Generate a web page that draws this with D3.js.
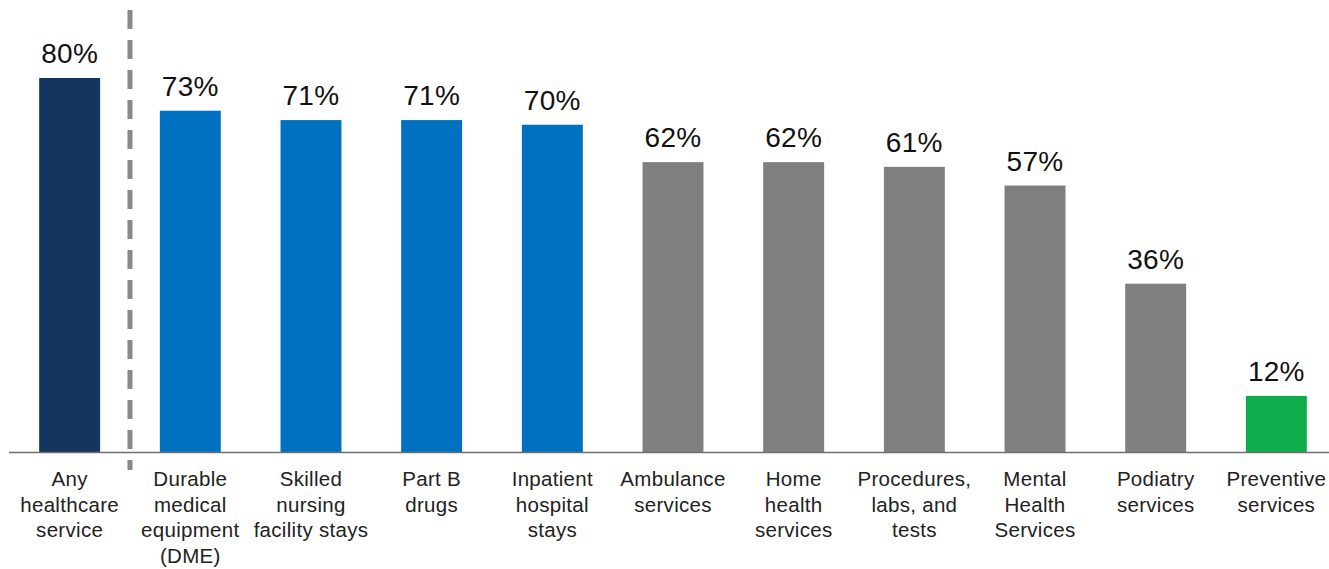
<!DOCTYPE html>
<html>
<head>
<meta charset="utf-8">
<script src="https://cdn.jsdelivr.net/npm/d3@7"></script>
<style>
  body { margin: 0; background: #fff; }
  svg { display: block; }
</style>
</head>
<body>
<svg id="chart"></svg>
<script>
// Share of respondents, per service
const categories = [
  ['Any', 'healthcare', 'service'],
  ['Durable', 'medical', 'equipment', '(DME)'],
  ['Skilled', 'nursing', 'facility stays'],
  ['Part B', 'drugs'],
  ['Inpatient', 'hospital', 'stays'],
  ['Ambulance', 'services'],
  ['Home', 'health', 'services'],
  ['Procedures,', 'labs, and', 'tests'],
  ['Mental', 'Health', 'Services'],
  ['Podiatry', 'services'],
  ['Preventive', 'services']
];
const values = [80, 73, 71, 71, 70, 62, 62, 61, 57, 36, 12];
const groups = ['any', 'blue', 'blue', 'blue', 'blue', 'gray', 'gray', 'gray', 'gray', 'gray', 'green'];

const colors = { any: '#14365C', blue: '#0070C0', gray: '#7F7F7F', green: '#0DAD4C' };

const width = 1329;
const height = 569;
const baseY = 452;

const svg = d3.select('#chart')
  .attr('width', width)
  .attr('height', height);

const keys = categories.map((c, i) => i);

const x = d3.scaleBand()
  .domain(keys)
  .range([9, 1337])
  .paddingInner(0.495)
  .paddingOuter(0.25);

const y = d3.scaleLinear()
  .domain([0, 80])
  .range([baseY, 78]);

// bars
svg.selectAll('rect.bar')
  .data(values)
  .join('rect')
  .attr('class', 'bar')
  .attr('x', (d, i) => x(i))
  .attr('y', d => y(d))
  .attr('width', x.bandwidth())
  .attr('height', d => y(0) - y(d))
  .attr('fill', (d, i) => colors[groups[i]]);

// baseline
svg.append('line')
  .attr('x1', 9)
  .attr('x2', width)
  .attr('y1', baseY + 0.5)
  .attr('y2', baseY + 0.5)
  .attr('stroke', '#6f6f6f')
  .attr('stroke-width', 1.5);

// dashed separator between "any" and the rest
const sepX = (x(0) + x.bandwidth() + x(1)) / 2;
svg.append('line')
  .attr('x1', sepX)
  .attr('x2', sepX)
  .attr('y1', 10)
  .attr('y2', 470)
  .attr('stroke', '#888')
  .attr('stroke-width', 5)
  .attr('stroke-dasharray', '19,11');

// value labels
svg.selectAll('text.val')
  .data(values)
  .join('text')
  .attr('class', 'val')
  .attr('x', (d, i) => x(i) + x.bandwidth() / 2)
  .attr('y', d => y(d) - 15)
  .attr('text-anchor', 'middle')
  .attr('font-family', 'Liberation Sans, Arial, sans-serif')
  .attr('font-size', '28px')
  .attr('letter-spacing', '0.3px')
  .attr('fill', '#111')
  .text(d => d + '%');

// category labels
const lab = svg.selectAll('text.cat')
  .data(categories)
  .join('text')
  .attr('class', 'cat')
  .attr('text-anchor', 'middle')
  .attr('font-family', 'Liberation Sans, Arial, sans-serif')
  .attr('font-size', '20.5px')
  .attr('letter-spacing', '0.3px')
  .attr('fill', '#222');

lab.each(function(lines, i) {
  const t = d3.select(this);
  lines.forEach((s, j) => {
    t.append('tspan')
      .attr('x', x(i) + x.bandwidth() / 2)
      .attr('y', 486 + j * 25.5)
      .text(s);
  });
});
</script>
</body>
</html>
